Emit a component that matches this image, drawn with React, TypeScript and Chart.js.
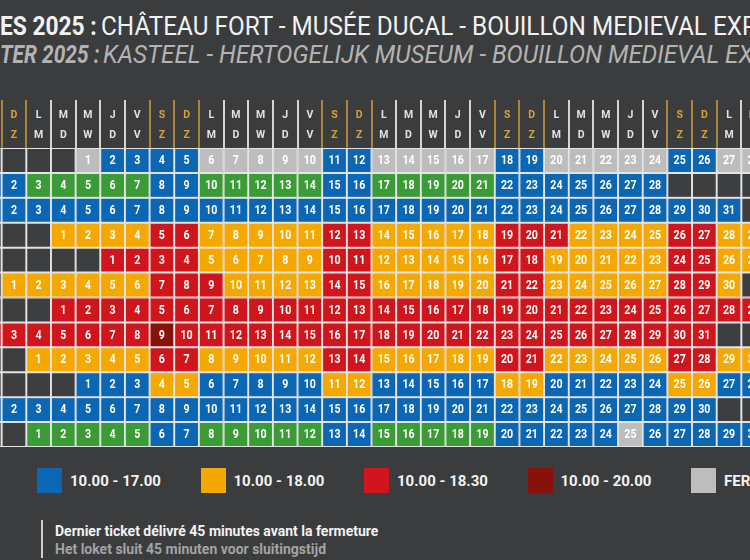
import React, { useEffect, useRef } from 'react';
import { Chart, registerables } from 'chart.js';

Chart.register(...registerables);

// Rows of the calendar (one per month, top to bottom)
const monthNames = ['Janvier', 'Février', 'Mars', 'Avril', 'Mai', 'Juin', 'Juillet', 'Août', 'Septembre', 'Octobre', 'Novembre', 'Décembre'];
// Grid column of the first listed day of each month (column 0 = first visible Sunday)
const firstColumn = [3, -1, -1, 2, 4, 0, 2, -1, 1, 3, -1, 1];
// First listed day number of each month (August starts off-picture)
const firstDay = [1, 1, 1, 1, 1, 1, 1, 2, 1, 1, 1, 1];

// Opening-hours code of each listed day: B 10-17, Y 10-18, R 10-18.30, D 10-20, F fermé, G green
const janHours = 'FBBBBFFFFFBBFFFFFBBFFFFFBBFF';
const febHours = 'BBGGGGGBBGGGGGBBGGGGGBBBBBBB';
const marHours = 'BBBBBBBBBBBBBBBBBBBBBBBBBBBBBBB';
const aprHours = 'YYYYRRYYYYYRRYYYYYRRRYYYYRRYY';
const mayHours = 'RRRRYYYYYRRYYYYYRRYYYYYRRYY';
const junHours = 'YYYYYYRRRYYYYRRYYYYYRRYYYYYRRY';
const julHours = 'RRRRRRRRRRRRRRRRRRRRRRRRRRRRR';
const augHours = 'RRRRRRRDRRRRRRRRRRRRRRRRRRRRRR';
const sepHours = 'YYYYYRRYYYYYRRYYYYYRRYYYYYRRYY';
const octHours = 'BBBYYBBBBBYYBBBBBYYBBBBBYYBB';
const novHours = 'BBBBBBBBBBBBBBBBBBBBBBBBBBBBBB';
const decHours = 'GGGGGBBGGGGGBBGGGGGBBBBBFBBBBB';
const monthHours = [janHours, febHours, marHours, aprHours, mayHours, junHours, julHours, augHours, sepHours, octHours, novHours, decHours];

// Visible grid columns (partially cut on both sides)
const columns = [-1, 0, 1, 2, 3, 4, 5, 6, 7, 8, 9, 10, 11, 12, 13, 14, 15, 16, 17, 18, 19, 20, 21, 22, 23, 24, 25, 26, 27, 28, 29, 30];
// Header tick labels per weekday (Sunday first): French / Dutch
const weekdayFr = ['D', 'L', 'M', 'M', 'J', 'V', 'S'];
const weekdayNl = ['Z', 'M', 'D', 'W', 'D', 'V', 'Z'];

// Legend categories
const hourCodes = ['B', 'Y', 'R', 'D', 'F', 'G'];
const hourColors = ['#0b66b3', '#f5a800', '#d0161c', '#86120a', '#bdbdbd', '#3a9b37'];
const legendLabels = ['10.00 - 17.00', '10.00 - 18.00', '10.00 - 18.30', '10.00 - 20.00', 'FERMÉ'];

const EMPTY = '#3d3e40';
const BG = '#3b3c3e';
const GOLD_TEXT = '#d9a233';
const GOLD_LINE = '#a9843a';
const LIGHT_LINE = '#d4d4d4';

const weekdayOf = (k: number) => ((k % 7) + 7) % 7;
const isWeekend = (k: number) => weekdayOf(k) === 0 || weekdayOf(k) === 6;

const dayNumberPlugin = {
  id: 'dayNumbers',
  afterDatasetsDraw(chart: any) {
    const ctx = chart.ctx;
    ctx.save();
    ctx.fillStyle = '#ffffff';
    ctx.font = 'bold 12.5px Roboto';
    ctx.textAlign = 'center';
    ctx.textBaseline = 'middle';
    chart.data.datasets.forEach((ds: any, di: number) => {
      const meta = chart.getDatasetMeta(di);
      meta.data.forEach((el: any, i: number) => {
        const day = ds.days[i];
        if (day == null) return;
        const p = el.getProps(['x', 'y', 'base'], true);
        ctx.save();
        ctx.translate(p.x, (p.y + p.base) / 2 + 0.5);
        ctx.scale(0.85, 1);
        ctx.fillText(String(day), 0, 0);
        ctx.restore();
      });
    });
    ctx.restore();
  },
};

const titleBase: React.CSSProperties = {
  position: 'absolute',
  whiteSpace: 'nowrap',
  fontSize: 25,
  lineHeight: '25px',
  transformOrigin: '0 0',
};

export default function App() {
  const canvasRef = useRef<HTMLCanvasElement>(null);

  useEffect(() => {
    document.body.style.margin = '0';
    const labels = columns.map((k) => [weekdayFr[weekdayOf(k)], weekdayNl[weekdayOf(k)]]);
    const datasets = monthNames.map((name, r) => {
      const codes = monthHours[r];
      const days = columns.map((k) => {
        const idx = k - firstColumn[r];
        return idx >= 0 && idx < codes.length ? firstDay[r] + idx : null;
      });
      const colors = columns.map((k) => {
        const idx = k - firstColumn[r];
        if (idx < 0 || idx >= codes.length) return EMPTY;
        return hourColors[hourCodes.indexOf(codes[idx])];
      });
      return {
        label: name,
        data: columns.map(() => [r - 0.5, r + 0.5]),
        backgroundColor: colors,
        days,
      };
    });

    const chart = new Chart(canvasRef.current as HTMLCanvasElement, {
      type: 'bar',
      data: { labels, datasets: datasets as any },
      options: {
        animation: false,
        responsive: false,
        layout: { padding: { left: 7, right: 4, top: 0, bottom: 3 } },
        plugins: {
          legend: { display: false },
          tooltip: { enabled: false },
          title: { display: false },
        },
        datasets: {
          bar: {
            grouped: false,
            barPercentage: 1,
            categoryPercentage: 1,
            borderWidth: 1.3,
            borderColor: '#e4e4e4',
            borderSkipped: false,
          } as any,
        },
        scales: {
          x: {
            position: 'top',
            offset: true,
            grid: {
              display: true,
              drawOnChartArea: false,
              drawTicks: true,
              tickLength: 48,
              lineWidth: 2,
              offset: true,
              color: (c: any) => {
                const i = c.index === undefined ? columns.length : c.index;
                const right = columns[i];
                const left = columns[i - 1];
                const gold = (right !== undefined && isWeekend(right)) || (left !== undefined && isWeekend(left));
                return gold ? GOLD_LINE : LIGHT_LINE;
              },
            },
            border: { display: false },
            ticks: {
              autoSkip: false,
              maxRotation: 0,
              minRotation: 0,
              padding: -45.5,
              color: (c: any) => (isWeekend(columns[c.index]) ? GOLD_TEXT : '#e2e2e2'),
              font: { family: 'Roboto', weight: 'bold', size: 10.5, lineHeight: 1.9 },
            },
            afterFit: (s: any) => {
              s.height = 48;
            },
          } as any,
          y: {
            type: 'linear',
            min: -0.5,
            max: 11.5,
            reverse: true,
            display: false,
          },
        },
      },
      plugins: [dayNumberPlugin],
    });
    return () => chart.destroy();
  }, []);

  return (
    <div
      style={{
        position: 'fixed',
        left: 0,
        top: 0,
        width: 750,
        height: 560,
        overflow: 'hidden',
        background: BG,
        fontFamily: 'Roboto, sans-serif',
      }}
    >
      <div style={{ ...titleBase, left: 0, top: 14, color: '#f2f2f2', fontWeight: 'bold', transform: 'scaleX(0.91)' }}>ES 2025 :</div>
      <div style={{ ...titleBase, left: 101, top: 14, color: '#f2f2f2', transform: 'scaleX(0.973)' }}>
        CHÂTEAU FORT - MUSÉE DUCAL - BOUILLON MEDIEVAL EXPERIENCE
      </div>
      <div style={{ ...titleBase, left: 0, top: 42, color: '#b3b3b3', fontWeight: 'bold', fontStyle: 'italic', transform: 'scaleX(0.835)' }}>
        TER 2025 :
      </div>
      <div style={{ ...titleBase, left: 103, top: 42, color: '#b3b3b3', fontStyle: 'italic', transform: 'scaleX(0.97)' }}>
        KASTEEL - HERTOGELIJK MUSEUM - BOUILLON MEDIEVAL EXPERIENCE
      </div>

      <canvas ref={canvasRef} width={800} height={350} style={{ position: 'absolute', left: -30, top: 100 }} />

      {legendLabels.map((lab, i) => (
        <div
          key={lab}
          style={{
            position: 'absolute',
            left: 37 + i * 163.5,
            top: 468,
            height: 25,
            display: 'flex',
            alignItems: 'center',
            whiteSpace: 'nowrap',
          }}
        >
          <div style={{ width: 25, height: 25, background: hourColors[i], marginRight: 8 }} />
          <span style={{ color: '#f2f2f2', fontWeight: 'bold', fontSize: 15 }}>{lab}</span>
        </div>
      ))}

      <div style={{ position: 'absolute', left: 41, top: 520, width: 2, height: 38, background: '#cfcfcf' }} />
      <div style={{ position: 'absolute', left: 55, top: 522, whiteSpace: 'nowrap', fontWeight: 'bold', fontSize: 14, lineHeight: '18px' }}>
        <div style={{ color: '#f2f2f2' }}>Dernier ticket délivré 45 minutes avant la fermeture</div>
        <div style={{ color: '#a3a3a3' }}>Het loket sluit 45 minuten voor sluitingstijd</div>
      </div>
    </div>
  );
}
